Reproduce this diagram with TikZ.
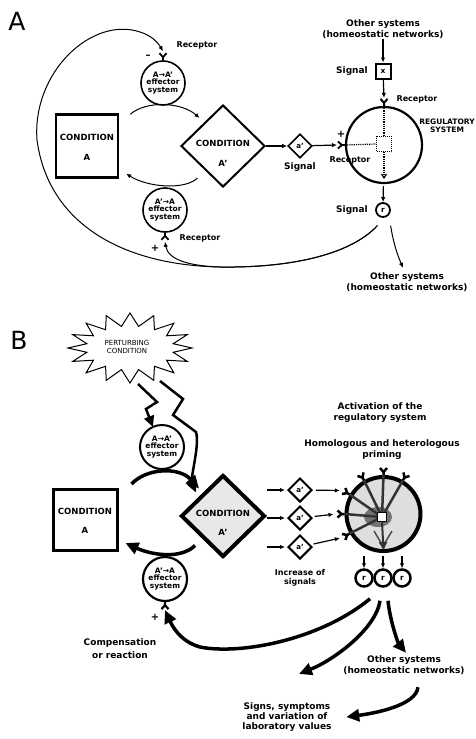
\documentclass[tikz,border=0pt]{standalone}
\usepackage{fontspec}
\setmainfont{DejaVu Sans}
\usetikzlibrary{positioning,arrows.meta,shapes.geometric,calc}

\begin{document}
\begin{tikzpicture}[x=1pt, y=-1pt,
  font=\fontsize{9}{11}\selectfont\bfseries,
  lbl/.style={align=center, inner sep=0.5pt},
  small/.style={font=\fontsize{8}{9}\selectfont\bfseries, inner sep=0.5pt},
  tiny/.style={font=\fontsize{7.5}{8.5}\selectfont\bfseries, align=center, inner sep=0pt},
  sign/.style={font=\fontsize{10}{10}\selectfont\bfseries, inner sep=0pt},
  panel/.style={font=\fontsize{25}{25}\selectfont\mdseries, inner sep=0pt},
  effector/.style={circle, draw, line width=1.6pt, minimum size=44pt, inner sep=0pt,
    align=center, font=\fontsize{7.5}{7.2}\selectfont\bfseries},
  condbox/.style={rectangle, draw, line width=2.4pt, minimum width=62pt, minimum height=63pt},
  conddia/.style={diamond, draw, line width=2pt, minimum width=84pt, minimum height=82pt, inner sep=0pt},
  condtxt/.style={align=center, font=\fontsize{8.5}{9}\selectfont\bfseries, inner sep=0pt},
  sigdia/.style={diamond, draw, line width=1.6pt, minimum size=24pt, inner sep=0pt,
    font=\fontsize{7}{7}\selectfont\bfseries},
  rsig/.style={circle, draw, line width=1.8pt, minimum size=14pt, inner sep=0pt,
    font=\fontsize{7.5}{7.5}\selectfont\bfseries},
  regsys/.style={circle, draw, line width=2.2pt, minimum size=76pt, inner sep=0pt},
  arr/.style={-{Latex[length=5pt,width=4.5pt]}, line width=1.2pt},
  thinline/.style={line width=1pt},
  bigarr/.style={-{Triangle[length=13pt,width=12pt]}, line width=3.5pt},
  bolt/.style={-{Triangle[length=11pt,width=10pt]}, line width=2.5pt},
  dotline/.style={densely dotted, line width=1.2pt},
  receptor/.pic={\draw (0pt,0pt) -- (0pt,3pt) (-3.5pt,7pt) -- (0pt,3pt) -- (3.5pt,7pt);}
]
\useasboundingbox (0,0) rectangle (476,739);

% ---------- Panel A ----------
\node[panel] (labA) at (17,21) {A};

\node[effector] (effAB) at (163,83) {A→A’\\effector\\system};
\node[effector] (effBA) at (165,210) {A’→A\\effector\\system};
\node[condbox] (condA) at (87,146) {};
\node[condtxt] (condAt) at (87,147) {CONDITION\\[11pt]A};
\node[conddia] (condAp) at (223,146) {};
\node[condtxt] (condApt) at (223,153) {CONDITION\\[11pt]A’};

% receptors of the effector systems
\pic[rotate=0, line width=1.8pt] at (effAB.north) {receptor};
\pic[rotate=180, line width=1.8pt] at (effBA.south) {receptor};
\coordinate (tAB) at ($(effAB.north)+(0pt,9pt)$);
\coordinate (tBA) at ($(effBA.south)+(0pt,-9pt)$);
\node[sign] (minA) at (148,57) {–};
\node[sign] (plusA) at (155,248) {+};
\node[small] (rcpA1) at (197,45) {Receptor};
\node[small] (rcpA2) at (200,238) {Receptor};

% loops between the two conditions
\draw[arr, thinline] ($(condA.north east)+(11,1)$) .. controls +(16,-14) and +(-18,-16) .. ($(condAp.north west)+(-2,-7)$);
\draw[arr, thinline] ($(condAp.south west)+(-4,11)$) .. controls +(-12,12) and +(22,14) .. ($(condA.south east)+(7,-5)$);

% signal a' and regulatory system
\node[sigdia] (sigA) at (300,146) {a’};
\node[lbl] (sigAl) at (300,167) {Signal};
\node[regsys] (regA) at (384,145) {};
\node[draw, densely dotted, line width=1pt, minimum size=15pt, inner sep=0pt] (sqA) at (384,144) {};
\pic[rotate=90, line width=1.8pt] at (regA.west) {receptor};
\pic[rotate=0, line width=2pt] at (regA.north) {receptor};
\coordinate (tRegL) at ($(regA.west)+(-8pt,0pt)$);
\coordinate (tRegT) at ($(regA.north)+(0pt,8pt)$);
\node[sign] (plusR) at (341,134) {+};
\node[small] (rcpA3) at (350,160) {Receptor};
\node[small] (rcpA4) at (417,99) {Receptor};
\node[tiny] (regAl) at (447,126) {REGULATORY\\SYSTEM};

\draw[dotline] (regA.north) -- (sqA.north);
\draw[dotline] (regA.west) -- (sqA.west);
\draw[dotline, -{Straight Barb[length=4pt,width=5pt]}] (sqA.south) -- ($(regA.south)+(0,-5)$);

\draw[arr] (condAp.east) -- (sigA);
\draw[arr] (sigA) -- (tRegL);

% incoming signal x
\node[lbl] (othT) at (383,29) {Other systems\\(homeostatic networks)};
\node[draw, line width=2pt, minimum size=15pt, inner sep=0pt,
  font=\fontsize{7.5}{7.5}\selectfont\bfseries] (sigX) at (383,71) {x};
\node[lbl] (sigXl) at (352,71) {Signal};
\draw[arr] (othT) -- (sigX);
\draw[arr] (sigX) -- (tRegT);

% outgoing signal r
\node[rsig] (sigR) at (383,210) {r};
\node[lbl] (sigRl) at (352,210) {Signal};
\draw[arr, shorten <=2pt] (regA) -- (sigR);
\node[lbl] (othA) at (407,282) {Other systems\\(homeostatic networks)};
\draw[arr, thinline] ($(sigR.south east)+(2,10)$) .. controls +(3,18) and +(-6,-14) .. ($(othA.north)+(-4,-4)$);

% feedback loops from r
\draw[arr, thinline] ($(sigR.south west)+(0,10)$) .. controls (350,255) and (290,268) .. (220,267)
  .. controls (190,266) and (168,260) .. (tBA);
\draw[arr, thinline] ($(sigR.south west)+(0,10)$) .. controls (350,255) and (290,268) .. (220,267)
  .. controls (120,265) and (48,222) .. (37,140)
  .. controls (32,72) and (92,16) .. (140,32)
  .. controls (150,35) and (157,41) .. (tAB);

% ---------- Panel B ----------
\node[panel] (labB) at (19,340) {B};

% perturbing condition
\coordinate (burst) at (130,348);
\draw[line width=1pt] plot[variable=\k, samples at={0,...,31}]
  ({130+(isodd(\k)?44:62)*cos(\k*11.25)}, {348+(isodd(\k)?22:35)*sin(\k*11.25)}) -- cycle;
\node[align=center, font=\fontsize{7}{8}\selectfont\mdseries, inner sep=0pt] (pert) at (127,347) {PERTURBING\\CONDITION};

\node[effector, line width=2pt] (effAB2) at (162,447) {A→A’\\effector\\system};
\node[effector, line width=2.2pt] (effBA2) at (165,579) {A’→A\\effector\\system};
\node[condbox, line width=3pt, minimum width=64pt, minimum height=61pt] (condA2) at (85,520) {};
\node[condtxt] (condA2t) at (85,521) {CONDITION\\[10pt]A};
\node[conddia, line width=4pt, fill=black!9] (condAp2) at (223,516) {};
\node[condtxt] (condAp2t) at (223,523) {CONDITION\\[10pt]A’};

% lightning bolts
\draw[bolt] ($(burst)+(8,36)$) -- ++(19,18) -- ++(-11,7) -- ++(7,18);
\draw[bolt] ($(burst)+(30,33)$) -- ++(23,18) -- ++(-10,16) -- ++(23,17)
  .. controls +(4,13) and +(-6,-14) .. ($(condAp2.north west)+(-5,-2)$);

% thick loops
\draw[bigarr] ($(condA2.north east)+(13,-4)$) .. controls +(15,-16) and +(-20,-22) .. ($(condAp2.north west)+(-2,-6)$);
\draw[bigarr] ($(condAp2.south west)+(-6,8)$) .. controls +(-14,14) and +(26,12) .. ($(condA2.south east)+(7,-9)$);

% receptor of the lower effector
\pic[rotate=180, line width=2.2pt] at (effBA2.south) {receptor};
\coordinate (tBA2) at ($(effBA2.south)+(0pt,-8pt)$);
\node[sign] (plusB) at (155,617) {+};

% increased signals a'
\node[sigdia, line width=2pt] (sig1) at (300,490) {a’};
\node[sigdia, line width=2pt] (sig2) at (300,518) {a’};
\node[sigdia, line width=2pt] (sig3) at (300,547) {a’};
\foreach \s in {sig1,sig2,sig3}
  \draw[arr, shorten >=2pt] (\s.west -| condAp2.east) -- (\s.west);
\node[small, align=center] (incl) at (300,578) {Increase of\\signals};

% activated regulatory system
\node[lbl] (actl) at (380,413) {Activation of the\\regulatory system};
\node[lbl] (priml) at (382,450) {Homologous and heterologous\\priming};
\node[regsys, line width=4pt, fill=black!13, minimum size=74pt] (regB) at (383.5,514) {};
\node[inner sep=0pt, minimum size=9pt] (sqB) at (382,517) {};
\fill[black!55] (378,517) ellipse [x radius=14, y radius=10];
\foreach \a in {60,90,120,150,180,210}
  \draw[line width=2.5pt, black!80] (regB.\a) -- (sqB.center);
\node[draw, fill=white, line width=1.5pt, minimum size=9pt, inner sep=0pt] at (sqB) {};
\draw[line width=1.5pt, black!70] (374,531) -- (383,546) -- (392,531);
\draw[-{Triangle[length=8pt,width=8pt]}, line width=2pt, black!80] (sqB.south) -- ($(regB.south)+(0,-3)$);
\foreach \a in {60,90,120,150,180,210}
  \pic[rotate=\a-90, line width=2.5pt] at (regB.\a) {receptor};
\coordinate (tR1) at ($(regB.150)+(150:8pt)$);
\coordinate (tR2) at ($(regB.180)+(180:8pt)$);
\coordinate (tR3) at ($(regB.210)+(210:8pt)$);
\draw[arr, shorten <=3pt, shorten >=3pt] (sig1) -- (tR1);
\draw[arr, shorten <=3pt, shorten >=3pt] (sig2) -- (tR2);
\draw[arr, shorten <=3pt, shorten >=3pt] (sig3) -- (tR3);

% outgoing signals r
\node[rsig, line width=2.5pt, minimum size=17pt] (r1) at (364,578) {r};
\node[rsig, line width=2.5pt, minimum size=17pt] (r2) at (383,578) {r};
\node[rsig, line width=2.5pt, minimum size=17pt] (r3) at (402,578) {r};
\foreach \r in {r1,r2,r3}
  \draw[arr, shorten <=3pt] (\r.north |- regB.south) -- (\r.north);

% consequences
\node[lbl, font=\fontsize{9}{13}\selectfont\bfseries] (compl) at (120,649) {Compensation\\or reaction};
\node[lbl] (othB) at (404,665) {Other systems\\(homeostatic networks)};
\node[lbl, font=\fontsize{9}{10}\selectfont\bfseries] (signl) at (287,717) {Signs, symptoms\\and variation of\\laboratory values};

\draw[bigarr] ($(r1.south)+(6,11)$) .. controls (320,640) and (240,655) .. (200,647)
  .. controls (185,643) and (175,632) .. (tBA2);
\draw[bigarr] ($(r2.south)+(-3,13)$) .. controls +(-4,28) and +(35,-14) .. ($(signl.north)+(12,-28)$);
\draw[bigarr] ($(r3.south)+(-14,13)$) .. controls +(2,20) and +(-8,-10) .. ($(othB.north)+(2,-2)$);
\draw[bigarr] ($(othB.south)+(14,12)$) .. controls +(-2,18) and +(30,-4) .. ($(signl.east)+(14,0)$);
\end{tikzpicture}
\end{document}
